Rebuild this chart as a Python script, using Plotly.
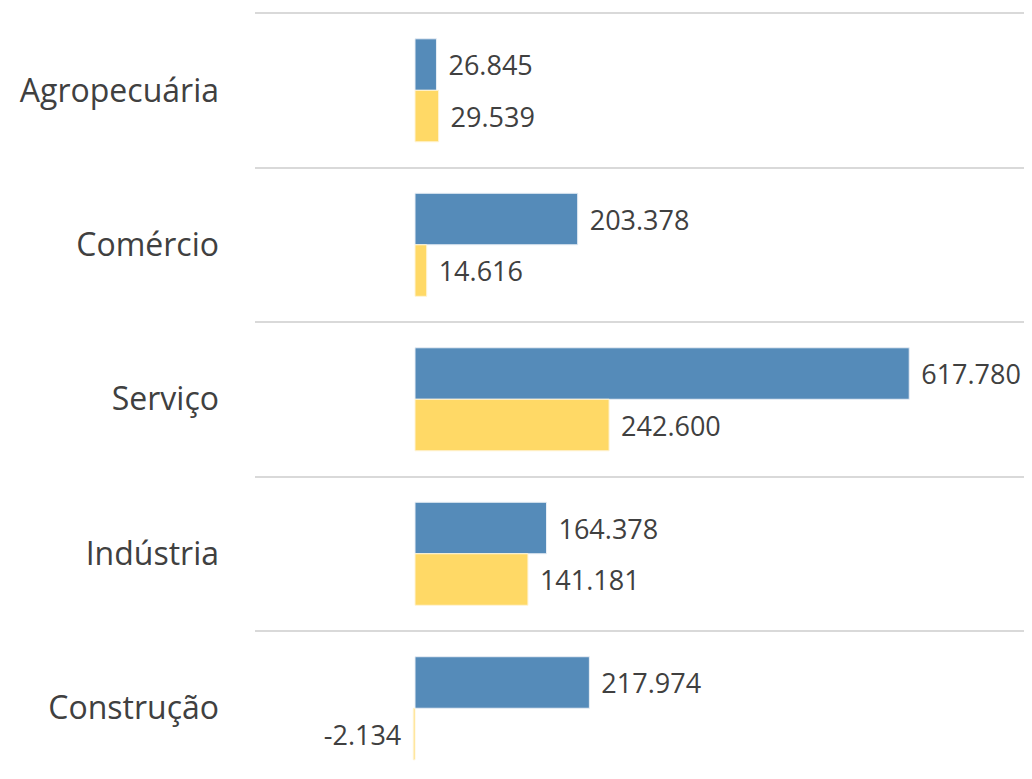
import plotly.graph_objects as go

setores = ["Agropecuária", "Comércio", "Serviço", "Indústria", "Construção"]
serie_azul = [26845, 203378, 617780, 164378, 217974]
serie_amarela = [29539, 14616, 242600, 141181, -2134]


def fmt(v):
    s = "{:,}".format(v).replace(",", ".")
    pad = "\u2004"
    return s + pad if v < 0 else pad + s


cor_texto = "#404040"

fig = go.Figure()
fig.add_trace(go.Bar(
    y=setores, x=serie_azul, orientation="h", name="azul",
    marker=dict(color="#558BB9", line=dict(color="#E8EEF5", width=1)),
    text=[fmt(v) for v in serie_azul], textposition="outside",
    textfont=dict(size=27, color=cor_texto), cliponaxis=False,
))
fig.add_trace(go.Bar(
    y=setores, x=serie_amarela, orientation="h", name="amarela",
    marker=dict(color="#FFD966", line=dict(color="#FFF4D6", width=1)),
    text=[fmt(v) for v in serie_amarela], textposition="outside",
    textfont=dict(size=27, color=cor_texto), cliponaxis=False,
))

# the page body has an 8px margin, so the figure is shifted by that much
fig.update_layout(
    width=1024, height=771,
    margin=dict(l=247, r=0, t=4, b=0),
    barmode="group", bargap=0.333, bargroupgap=0,
    showlegend=False,
    plot_bgcolor="#FFFFFF", paper_bgcolor="#FFFFFF",
    font=dict(family="Open Sans", color=cor_texto),
)
fig.update_xaxes(range=[-200000, 771250], showgrid=False, zeroline=False,
                 showticklabels=False, fixedrange=True)
fig.update_yaxes(
    type="category", categoryorder="array", categoryarray=setores,
    range=[4.458, -0.507], tickson="boundaries",
    showgrid=True, gridcolor="#D9D9D9", gridwidth=2,
    ticks="", ticklabelstandoff=35,
    tickfont=dict(size=32, color=cor_texto), zeroline=False,
)

fig.write_html("out.html")
